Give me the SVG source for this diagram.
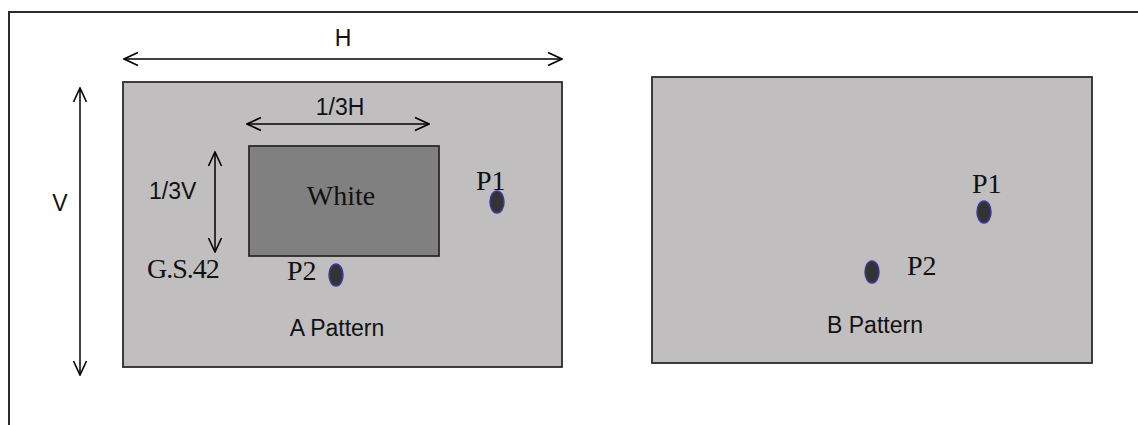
<svg xmlns="http://www.w3.org/2000/svg" width="1138" height="425" viewBox="0 0 1138 425">
<style>
.frame{fill:none;stroke:#2b2b2b;stroke-width:2}
.panel{fill:#c0bebf;stroke:#2b2b2b;stroke-width:1.8}
.inner{fill:#808080;stroke:#2b2b2b;stroke-width:1.8}
.dim{fill:none;stroke:#000;stroke-width:1.5;marker-start:url(#ah);marker-end:url(#ah)}
.sans{font-family:"Liberation Sans",Arial,sans-serif;font-size:23px;fill:#111}
.serif{font-family:"Liberation Serif","Times New Roman",serif;font-size:28px;fill:#111}
.dot{fill:#333;stroke:#3a3aa0;stroke-width:1.5}
</style>
<defs>
<marker id="ah" viewBox="0 0 16 16" refX="15" refY="8" markerWidth="16" markerHeight="16" markerUnits="userSpaceOnUse" orient="auto-start-reverse">
<polyline points="1,1.5 15,8 1,14.5" fill="none" stroke="#000" stroke-width="1.6"/>
</marker>
</defs>
<rect width="1138" height="425" fill="#fff"/>
<path class="frame" d="M9,425 V12 H1138"/>
<g id="panelA">
<rect class="panel" x="123" y="82" width="439" height="285"/>
<text class="sans" x="337" y="336" text-anchor="middle">A Pattern</text>
</g>
<g id="whiteBox">
<rect class="inner" x="249" y="146" width="190" height="110"/>
<text class="serif" x="341" y="205" text-anchor="middle">White</text>
</g>
<g id="gs42">
<text class="serif" x="147" y="278" letter-spacing="-1">G.S.42</text>
</g>
<g id="A_P1">
<text class="serif" x="476" y="190">P1</text>
<ellipse class="dot" cx="497" cy="202" rx="7" ry="11"/>
</g>
<g id="A_P2">
<text class="serif" x="287" y="280">P2</text>
<ellipse class="dot" cx="336" cy="275" rx="7" ry="11"/>
</g>
<g id="panelB">
<rect class="panel" x="652" y="77" width="440" height="286"/>
<text class="sans" x="875" y="333" text-anchor="middle">B Pattern</text>
</g>
<g id="B_P1">
<text class="serif" x="972" y="193">P1</text>
<ellipse class="dot" cx="984" cy="212" rx="7" ry="11"/>
</g>
<g id="B_P2">
<text class="serif" x="907" y="275">P2</text>
<ellipse class="dot" cx="872" cy="272" rx="7" ry="11"/>
</g>
<g id="connectors">
<line class="dim" x1="124" y1="59" x2="562" y2="59"/>
<line class="dim" x1="80" y1="88" x2="80" y2="375"/>
<line class="dim" x1="247" y1="124" x2="429" y2="124"/>
<line class="dim" x1="215" y1="152" x2="215" y2="252"/>
</g>
<g id="labels">
<text class="sans" x="343" y="46" text-anchor="middle">H</text>
<text class="sans" x="60" y="211" text-anchor="middle">V</text>
<text class="sans" x="340" y="115" text-anchor="middle">1/3H</text>
<text class="sans" x="149" y="199">1/3V</text>
</g>
</svg>
